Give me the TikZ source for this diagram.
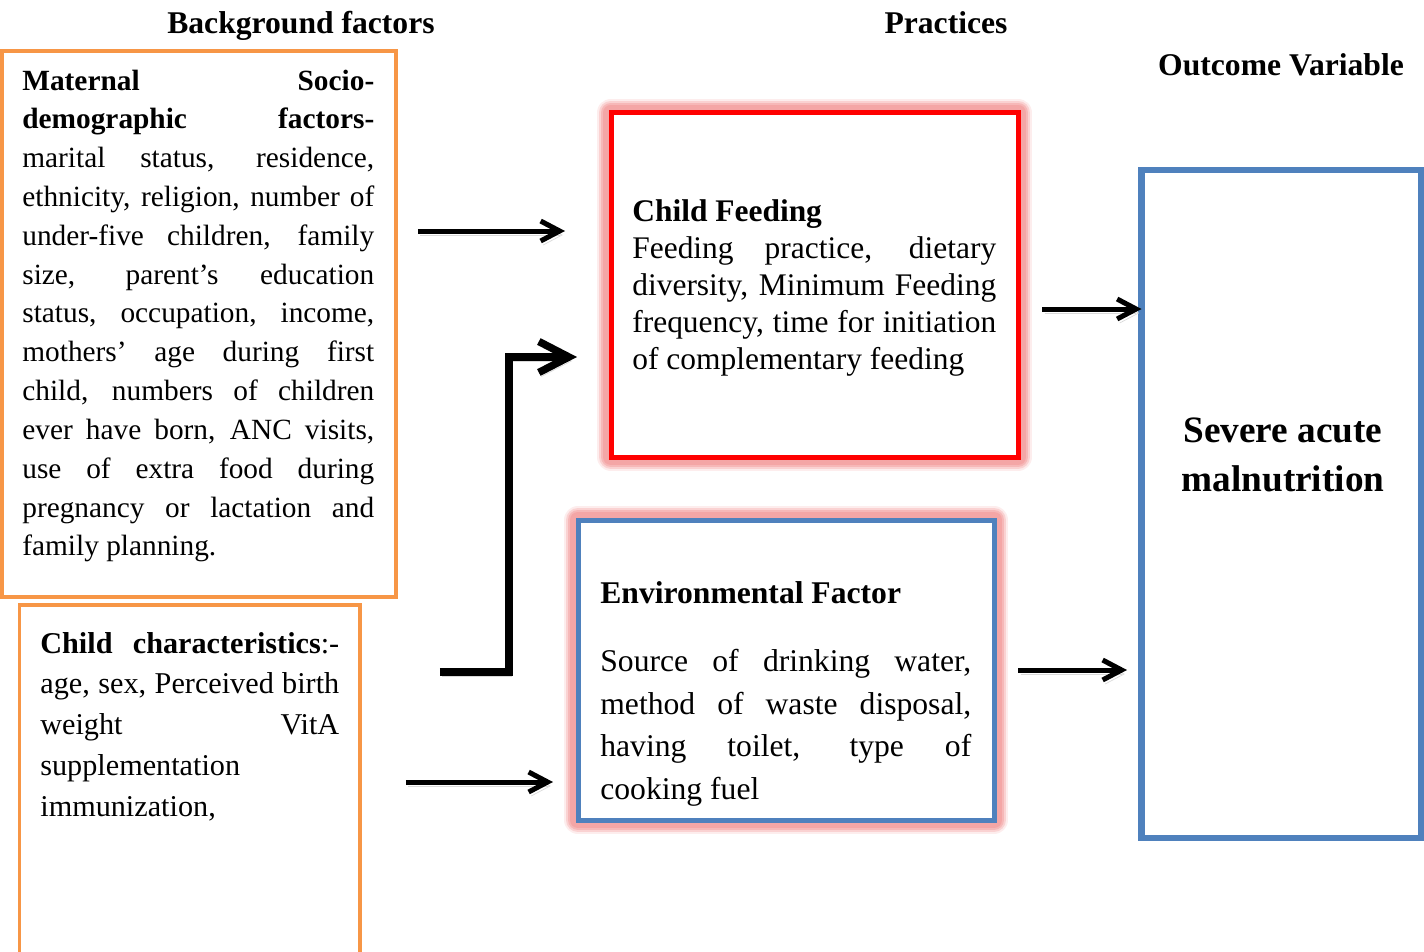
\documentclass[tikz,border=0pt]{standalone}
\usepackage{fontspec}
\setmainfont{Liberation Serif}
\usetikzlibrary{arrows.meta,fit,positioning}
\definecolor{frameorange}{RGB}{247,150,70}
\definecolor{frameblue}{RGB}{79,129,189}
\definecolor{framered}{RGB}{255,0,0}
\definecolor{glowpink}{RGB}{244,166,166}

\begin{document}
\begin{tikzpicture}[x=0.02cm,y=-0.02cm,
    box/.style={draw=#1, fill=white, inner sep=0pt, outer sep=0pt, line width=0.1cm},
    glow/.style={preaction={draw=glowpink!20, line width=0.56cm, line join=round},
                 preaction={draw=glowpink!50, line width=0.48cm, line join=round},
                 preaction={draw=glowpink!80, line width=0.4cm, line join=round},
                 preaction={draw=glowpink, line width=0.32cm, line join=round}},
    head/.style={font=\fontsize{18}{22}\selectfont\bfseries, anchor=base, inner sep=0pt},
    para/.style={anchor=base west, inner sep=0pt, text width=#1, align=justify,
                 execute at begin node={\tolerance=10000 \hyphenpenalty=10000 \parindent=0pt}},
    arrshadow/.style={preaction={draw=black!15, transform canvas={shift={(0.05cm,-0.08cm)}}}},
    arr/.style={arrshadow, line width=0.1cm, -{Straight Barb[length=0.38cm,width=0.4cm]}},
    bigarr/.style={arrshadow, line width=0.15cm, -{Straight Barb[length=0.6cm,width=0.62cm]}}]

    % page frame
    \useasboundingbox (0,0) rectangle (1424,951);

    % column titles
    \node[head] (ttlback) at (301,33) {Background factors};
    \node[head] (ttlprac) at (946,33) {Practices};
    \node[head] (ttlout) at (1281,75) {Outcome Variable};

    % boxes
    \node[box=frameorange, line width=0.08cm, fit={(2,51) (396,597)}] (mat) {};
    \node[box=frameorange, line width=0.08cm, fit={(19.5,604.5) (359.5,975)}] (kid) {};
    \node[box=framered, glow, fit={(611,112.5) (1018,457)}] (feed) {};
    \node[box=frameblue, glow, fit={(578,520) (994,820)}] (env) {};
    \node[box=frameblue, line width=0.13cm, fit={(1141.5,170) (1421,838)}] (sam) {};

    % box texts
    \node[para=7.04cm, font=\fontsize{16.7}{22.1}\selectfont] (mattxt) at (22,90) {%
        \textbf{Maternal Socio-\linebreak demographic factors-}\linebreak
        marital status, residence,\linebreak
        ethnicity, religion, number of\linebreak
        under-five children, family\linebreak
        size, parent's education\linebreak
        status, occupation, income,\linebreak
        mothers' age during first\linebreak
        child, numbers of children\linebreak
        ever have born, ANC visits,\linebreak
        use of extra food during\linebreak
        pregnancy or lactation and\linebreak
        family planning.};

    \node[para=5.98cm, font=\fontsize{17.2}{23.3}\selectfont] (kidtxt) at (40,653) {%
        \textbf{Child characteristics}:-\linebreak
        age, sex, Perceived birth\linebreak
        weight VitA\linebreak
        supplementation\linebreak
        immunization,};

    \node[para=7.28cm, font=\fontsize{17.9}{21.2}\selectfont] (feedtxt) at (632,221) {%
        \textbf{Child Feeding}\par
        Feeding practice, dietary\linebreak
        diversity, Minimum Feeding\linebreak
        frequency, time for initiation\linebreak
        of complementary feeding};

    \node[para=7.42cm, font=\fontsize{18}{24.2}\selectfont] (envtxt) at (600,603) {%
        \textbf{Environmental Factor}\par\vspace{15pt}
        Source of drinking water,\linebreak
        method of waste disposal,\linebreak
        having toilet, type of\linebreak
        cooking fuel};

    \node[font=\fontsize{21.2}{27.9}\selectfont\bfseries, align=center, inner sep=0pt]
        (samtxt) at (1283,455) {Severe acute\\malnutrition};

    % arrows
    \coordinate (r1) at (0,231);
    \coordinate (r2) at (0,672);
    \coordinate (bend) at (509,357);
    \coordinate (r3) at (0,782);
    \coordinate (r4) at (0,309);
    \coordinate (r5) at (0,670);

    \draw[arr, shorten <=0.44cm, shorten >=0.92cm] (mat.east |- r1) -- (feed.west |- r1);
    \draw[bigarr, shorten <=1.61cm, shorten >=0.68cm] (kid.east |- r2) -| (bend) -- (feed.west |- bend);
    \draw[arr, shorten <=0.93cm, shorten >=0.5cm] (kid.east |- r3) -- (env.west |- r3);
    \draw[arr, shorten <=0.48cm] (feed.east |- r4) -- (sam.west |- r4);
    \draw[arr, shorten <=0.48cm, shorten >=0.29cm] (env.east |- r5) -- (sam.west |- r5);

\end{tikzpicture}
\end{document}
